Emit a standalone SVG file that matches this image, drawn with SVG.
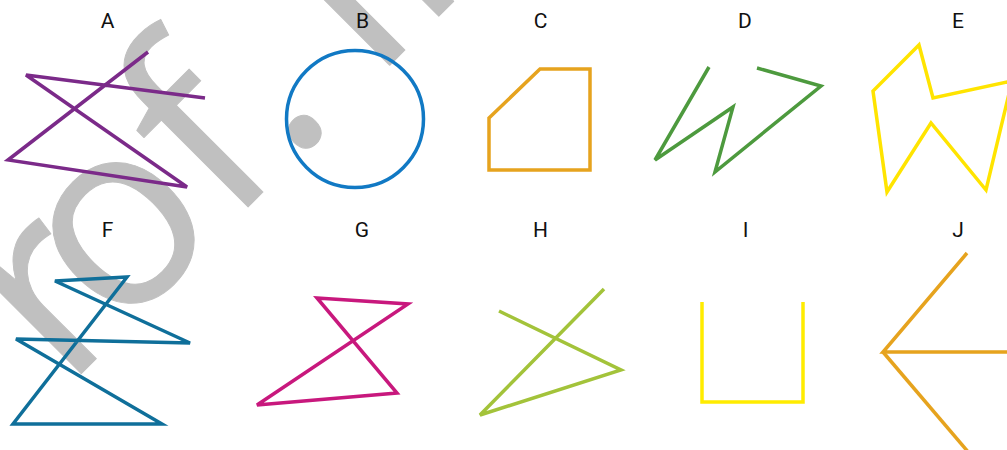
<svg xmlns="http://www.w3.org/2000/svg" width="1007" height="450" viewBox="0 0 1007 450">
<style>
.lbl{font-family:Roboto,"Liberation Sans",sans-serif;font-size:21px;fill:#111;text-anchor:middle}
.s{fill:none;stroke-width:3.5;stroke-linejoin:miter;stroke-linecap:butt}
.wm{font-family:"Open Sans","DejaVu Sans",sans-serif;font-size:260px;fill:#c0c0c0;stroke:#c0c0c0;stroke-width:1;stroke-linejoin:round}
</style>
<rect width="1007" height="450" fill="#fff"/>
<g id="watermark">
<text class="wm" transform="translate(-45,500) rotate(-45)">Pr<tspan dx="-33">of.</tspan><tspan dx="-20"> Ing.</tspan></text>
</g>
<g id="connectors"/>
<g id="A">
<text class="lbl" x="107.5" y="28">A</text>
<polyline class="s" stroke="#7b2a89" points="148,52 8,160 187,187 26,75 205,98"/>
</g>
<g id="B">
<text class="lbl" x="362.5" y="28">B</text>
<circle class="s" stroke="#1179c4" cx="355" cy="119" r="68.5"/>
</g>
<g id="C">
<text class="lbl" x="540.5" y="28">C</text>
<polygon class="s" stroke="#e6a31e" points="489,118 540,69 590,69 590,170 489,170"/>
</g>
<g id="D">
<text class="lbl" x="745" y="28">D</text>
<polyline class="s" stroke="#4d9a3e" points="709,67 655,160 733,107 715,172 821,86 757,68"/>
</g>
<g id="E">
<text class="lbl" x="958" y="28">E</text>
<polygon class="s" stroke="#ffe400" points="919,45 933,98 1012,81 986,190 931,123 887,192 873,91"/>
</g>
<g id="F">
<text class="lbl" x="107.5" y="237">F</text>
<polygon class="s" stroke="#0f6f9a" points="127,277 13,424 162,424 16,339 190,343 55,281"/>
</g>
<g id="G">
<text class="lbl" x="362" y="237">G</text>
<polygon class="s" stroke="#c8187d" points="317,298 408,304 257,405 397,393"/>
</g>
<g id="H">
<text class="lbl" x="540.5" y="237">H</text>
<polyline class="s" stroke="#a3c33a" points="499,311 621,370 480,415 604,289"/>
</g>
<g id="I">
<text class="lbl" x="745.5" y="237">I</text>
<polyline class="s" stroke="#ffec00" points="702,302 702,402 803,402 803,302"/>
</g>
<g id="J">
<text class="lbl" x="958" y="237">J</text>
<polyline class="s" stroke="#e6a31e" points="967,253 883,352 1020,352"/>
<line class="s" stroke="#e6a31e" x1="883" y1="352" x2="975" y2="460"/>
</g>
</svg>
